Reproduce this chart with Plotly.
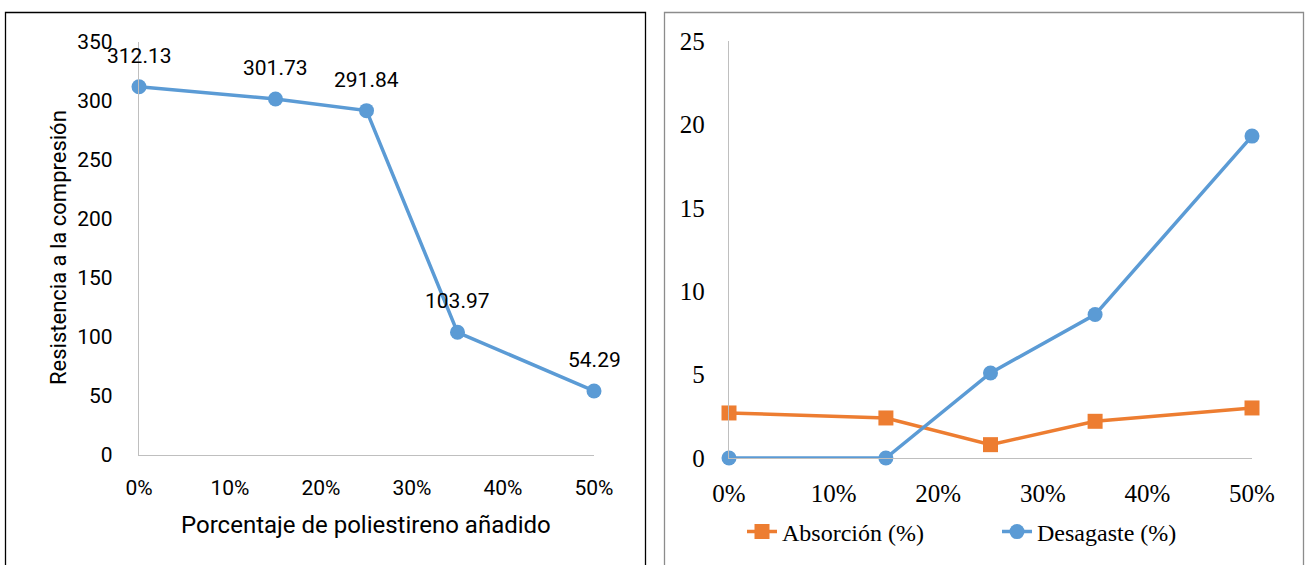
import plotly.graph_objects as go

# Left chart data
pct_left = [0.0, 0.15, 0.25, 0.35, 0.50]
resistencia = [312.13, 301.73, 291.84, 103.97, 54.29]
left_labels = ["312.13", "301.73", "291.84", "103.97", "54.29"]

# Right chart data
pct_right = [0.0, 0.15, 0.25, 0.35, 0.50]
absorcion = [2.7, 2.4, 0.8, 2.2, 3.0]
desgaste = [0.0, 0.0, 5.1, 8.6, 19.3]

x_ticks = [0.0, 0.1, 0.2, 0.3, 0.4, 0.5]
x_ticktext = ["0%", "10%", "20%", "30%", "40%", "50%"]

BLUE = "#5B9BD5"
ORANGE = "#ED7D31"
AXIS = "#BFBFBF"
SANS = "Roboto"
SERIF = "Liberation Serif"

W, H = 1305, 565

fig = go.Figure()

fig.add_trace(go.Scatter(
    x=pct_left, y=resistencia, mode="lines+markers",
    line=dict(color=BLUE, width=3.5),
    marker=dict(color=BLUE, size=15, symbol="circle"),
    xaxis="x", yaxis="y", showlegend=False, cliponaxis=False,
))

fig.add_trace(go.Scatter(
    x=pct_right, y=absorcion, mode="lines+markers", name="Absorción (%)",
    line=dict(color=ORANGE, width=3.5),
    marker=dict(color=ORANGE, size=15, symbol="square"),
    xaxis="x2", yaxis="y2", cliponaxis=False,
))
fig.add_trace(go.Scatter(
    x=pct_right, y=desgaste, mode="lines+markers", name="Desagaste (%)",
    line=dict(color=BLUE, width=3.5),
    marker=dict(color=BLUE, size=15, symbol="circle"),
    xaxis="x2", yaxis="y2", cliponaxis=False,
))

annotations = []
for xv, yv, t in zip(pct_left, resistencia, left_labels):
    annotations.append(dict(
        x=xv, y=yv, xref="x", yref="y", text=t, showarrow=False,
        xanchor="center", yanchor="middle",
        yshift=31, font=dict(family=SANS, size=21, color="#000000"),
    ))

annotations.append(dict(
    x=58 / W, y=1 - 248 / H, xref="paper", yref="paper",
    xanchor="center", yanchor="middle",
    text="Resistencia a la compresión", textangle=-90, showarrow=False,
    font=dict(family=SANS, size=22, color="#000000"),
))
annotations.append(dict(
    x=366 / W, y=1 - 525 / H, xref="paper", yref="paper",
    xanchor="center", yanchor="middle",
    text="Porcentaje de poliestireno añadido", showarrow=False,
    font=dict(family=SANS, size=24, color="#000000"),
))

shapes = [
    dict(type="rect", xref="paper", yref="paper",
         x0=5.5 / W, x1=645.5 / W, y0=-0.05, y1=1 - 12.5 / H,
         line=dict(color="#000000", width=1.3)),
    dict(type="rect", xref="paper", yref="paper",
         x0=664.5 / W, x1=1303.5 / W, y0=-0.05, y1=1 - 12.5 / H,
         line=dict(color="#8C8C8C", width=1.3)),
]

fig.update_layout(
    width=W, height=H,
    margin=dict(l=0, r=0, t=0, b=0, pad=0, autoexpand=False),
    paper_bgcolor="white", plot_bgcolor="white",
    xaxis=dict(
        domain=[139 / W, 594 / W], range=[0, 0.5], anchor="y",
        tickvals=x_ticks, ticktext=x_ticktext,
        showgrid=False, zeroline=False, showline=True, automargin=False,
        linecolor=AXIS, linewidth=1.3, ticks="", ticklabelstandoff=14,
        tickfont=dict(family=SANS, size=21, color="#000000"),
    ),
    yaxis=dict(
        domain=[1 - 455 / H, 1 - 42 / H], range=[0, 350], anchor="x",
        tickvals=[0, 50, 100, 150, 200, 250, 300, 350],
        showgrid=False, zeroline=False, showline=True, automargin=False,
        linecolor=AXIS, linewidth=1.3, ticks="", ticklabelstandoff=21,
        tickfont=dict(family=SANS, size=21, color="#000000"),
    ),
    xaxis2=dict(
        domain=[729 / W, 1252 / W], range=[0, 0.5], anchor="y2",
        tickvals=x_ticks, ticktext=x_ticktext,
        showgrid=False, zeroline=False, showline=True, automargin=False,
        linecolor=AXIS, linewidth=1.3, ticks="", ticklabelstandoff=13,
        tickfont=dict(family=SERIF, size=25, color="#000000"),
    ),
    yaxis2=dict(
        domain=[1 - 458 / H, 1 - 41 / H], range=[0, 25], anchor="x2",
        tickvals=[0, 5, 10, 15, 20, 25],
        showgrid=False, zeroline=False, showline=True, automargin=False,
        linecolor=AXIS, linewidth=1.3, ticks="", ticklabelstandoff=18,
        tickfont=dict(family=SERIF, size=25, color="#000000"),
    ),
    legend=dict(
        orientation="h", x=742 / W, y=1 - 532 / H, xanchor="left", yanchor="middle",
        font=dict(family=SERIF, size=24, color="#000000"),
        entrywidth=210, bgcolor="rgba(0,0,0,0)", tracegroupgap=0,
    ),
    annotations=annotations,
    shapes=shapes,
)

fig.write_html("out.html")
